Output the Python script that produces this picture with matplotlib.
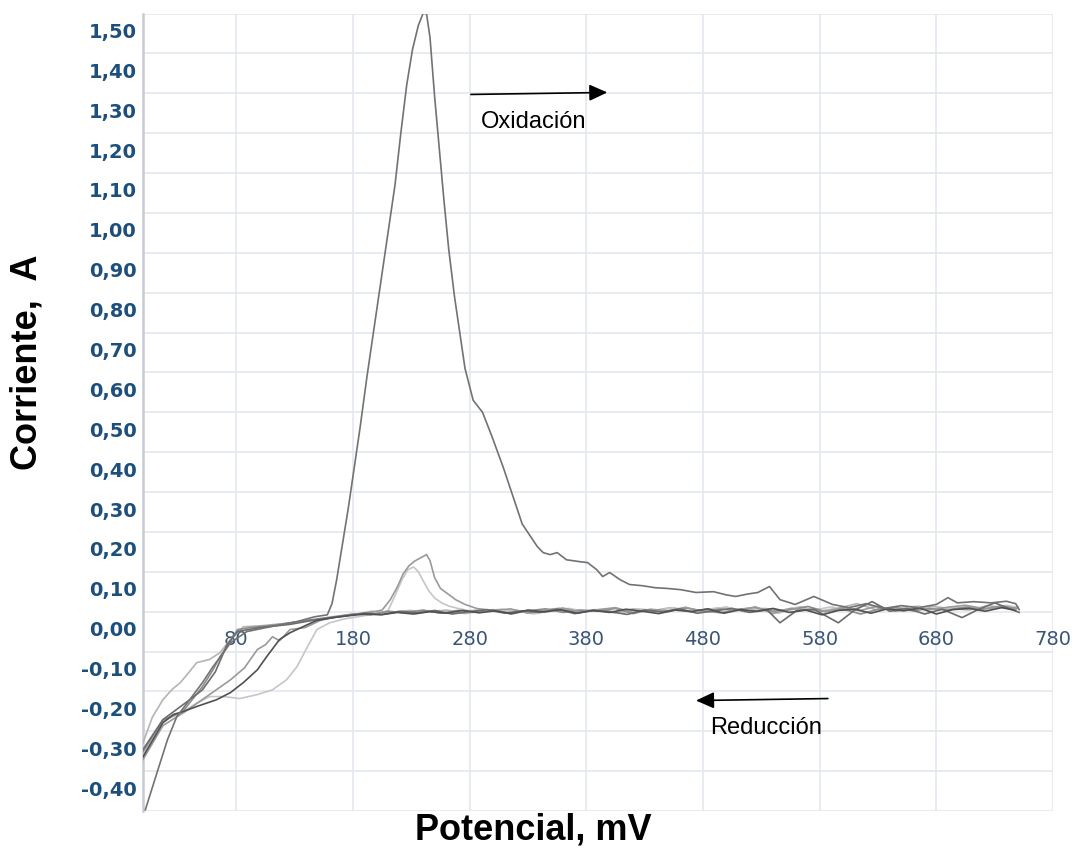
import matplotlib
matplotlib.use("Agg")
import matplotlib.pyplot as plt
from matplotlib.transforms import offset_copy

# Potential (mV) and current (A) for each cycle of the voltammogram
E1 = [2, 12, 21, 29, 40, 51, 60, 69, 75, 89, 109, 132, 147, 158, 162, 166, 171, 176, 181, 186,
      192, 198, 204, 210, 216, 221, 226, 231, 236, 240, 243, 246, 250, 254, 258, 262, 267, 272, 276, 283,
      291, 299, 309, 317, 325, 338, 343, 349, 355, 363, 375, 381, 389, 394, 400, 409, 417, 428, 439, 450,
      461, 474, 489, 500, 508, 518, 527, 537, 546, 559, 567, 575, 591, 605, 620, 635, 650, 665, 680, 690,
      698, 712, 727, 740, 748, 751]
I1 = [-0.497, -0.404, -0.321, -0.263, -0.221, -0.178, -0.138, -0.103, -0.078, -0.050,
      -0.038, -0.025, -0.013, -0.008, 0.020, 0.080, 0.170, 0.260, 0.360, 0.460,
      0.590, 0.710, 0.830, 0.950, 1.070, 1.200, 1.320, 1.410, 1.470, 1.500,
      1.500, 1.440, 1.290, 1.160, 1.030, 0.910, 0.790, 0.690, 0.610, 0.530,
      0.500, 0.440, 0.360, 0.290, 0.220, 0.163, 0.148, 0.143, 0.148, 0.130,
      0.125, 0.123, 0.105, 0.088, 0.098, 0.080, 0.068, 0.065, 0.060, 0.058,
      0.055, 0.048, 0.050, 0.042, 0.038, 0.044, 0.048, 0.063, 0.030, 0.018,
      0.028, 0.038, 0.018, 0.010, 0.020, 0.008, 0.015, 0.010, 0.018, 0.035,
      0.022, 0.025, 0.022, 0.026, 0.020, 0.005]

E2 = [0, 17, 26, 34, 46, 63, 75, 86, 98, 106, 117, 126, 137, 149, 163, 177, 190, 204, 218, 232,
      246, 260, 274, 288, 302, 316, 330, 344, 358, 372, 386, 400, 414, 428, 442, 456, 470, 484, 498, 512,
      526, 540, 554, 568, 582, 596, 610, 624, 638, 652, 666, 680, 694, 708, 722, 736, 748]
I2 = [-0.364, -0.279, -0.258, -0.251, -0.238, -0.221, -0.203, -0.178, -0.146, -0.113,
      -0.070, -0.053, -0.038, -0.022, -0.015, -0.010, -0.006, -0.008, -0.002, -0.006,
      0.000, -0.004, 0.003, -0.003, 0.002, -0.005, 0.004, -0.001, 0.005, -0.004,
      0.003, -0.002, 0.006, 0.001, -0.005, 0.004, 0.000, 0.007, -0.004, 0.005,
      0.001, 0.008, -0.002, 0.004, -0.008, 0.003, 0.006, -0.004, 0.007, 0.002,
      0.009, -0.006, 0.005, 0.008, 0.001, 0.010, 0.003]

E3 = [0, 17, 34, 46, 57, 69, 83, 98, 111, 123, 132, 141, 149, 160, 173, 186, 198, 210, 216, 222,
      227, 232, 236, 240, 245, 250, 256, 262, 270, 280, 292, 305, 320, 335, 350, 365, 380, 395, 410, 425,
      440, 455, 470, 485, 500, 515, 530, 545, 560, 575, 590, 605, 620, 635, 650, 665, 680, 695, 710, 725,
      740, 750]
I3 = [-0.359, -0.276, -0.251, -0.230, -0.213, -0.213, -0.218, -0.208, -0.196, -0.171,
      -0.138, -0.088, -0.045, -0.028, -0.018, -0.012, -0.006, 0.002, 0.040, 0.080,
      0.105, 0.112, 0.100, 0.078, 0.052, 0.034, 0.022, 0.014, 0.008, 0.002,
      0.006, -0.002, 0.004, -0.006, 0.003, 0.008, 0.000, 0.005, -0.004, 0.007,
      0.002, 0.010, -0.001, 0.006, 0.011, 0.001, 0.008, -0.004, 0.010, 0.004,
      0.012, 0.002, 0.018, 0.006, 0.010, 0.014, 0.004, 0.009, 0.013, 0.007,
      0.016, 0.010]

E4 = [0, 17, 34, 51, 60, 66, 72, 81, 92, 109, 122, 135, 150, 165, 180, 195, 210, 225, 240, 255,
      270, 285, 300, 315, 330, 345, 360, 375, 390, 405, 420, 435, 450, 465, 480, 495, 510, 525, 540, 555,
      570, 585, 600, 615, 630, 645, 660, 675, 690, 705, 720, 735, 749]
I4 = [-0.351, -0.272, -0.251, -0.188, -0.146, -0.113, -0.088, -0.045, -0.040, -0.035,
      -0.030, -0.024, -0.018, -0.012, -0.006, -0.008, 0.001, -0.003, 0.004, -0.004,
      0.003, -0.001, 0.005, -0.006, 0.002, 0.007, -0.002, 0.004, 0.001, 0.008,
      -0.005, 0.005, 0.000, 0.009, 0.002, -0.003, 0.006, 0.010, 0.001, 0.005,
      0.013, 0.000, 0.007, -0.006, 0.006, 0.010, 0.002, 0.008, 0.004, 0.011,
      0.006, 0.014, 0.008]

E5 = [0, 8, 17, 25, 32, 40, 46, 57, 66, 75, 86, 103, 120, 135, 150, 165, 180, 196, 212, 228,
      244, 260, 276, 292, 308, 324, 340, 356, 372, 388, 404, 420, 436, 452, 468, 484, 500, 516, 532, 548,
      564, 580, 596, 612, 628, 644, 660, 676, 692, 708, 724, 740, 750]
I5 = [-0.329, -0.265, -0.221, -0.195, -0.178, -0.150, -0.128, -0.120, -0.103, -0.070,
      -0.038, -0.035, -0.030, -0.025, -0.020, -0.014, -0.008, 0.001, -0.004, 0.003,
      -0.001, 0.004, -0.005, 0.002, 0.006, -0.001, 0.003, 0.008, 0.000, 0.005,
      -0.003, 0.007, 0.002, 0.010, 0.001, 0.006, 0.011, 0.000, 0.008, 0.004,
      0.012, 0.001, 0.009, 0.020, 0.005, 0.010, 0.003, 0.013, 0.008, 0.004,
      0.015, 0.009, 0.012]

E6 = [0, 17, 40, 51, 62, 72, 81, 100, 126, 145, 160, 175, 190, 205, 220, 235, 250, 265, 280, 295,
      310, 325, 340, 355, 370, 385, 400, 415, 430, 445, 460, 475, 490, 505, 520, 535, 546, 560, 575, 596,
      610, 625, 640, 655, 670, 685, 702, 715, 730, 745, 751]
I6 = [-0.346, -0.271, -0.221, -0.196, -0.151, -0.083, -0.050, -0.040, -0.032, -0.022,
      -0.016, -0.010, -0.004, -0.007, 0.001, -0.003, 0.003, -0.006, 0.000, 0.005,
      -0.004, 0.002, -0.002, 0.006, -0.005, 0.003, 0.000, -0.007, 0.004, -0.001,
      0.007, -0.004, 0.002, 0.008, -0.002, 0.004, -0.028, 0.002, 0.006, -0.028,
      0.004, 0.025, 0.001, 0.008, -0.006, 0.006, -0.015, 0.004, 0.022, 0.005,
      -0.002]

E7 = [0, 17, 36, 57, 75, 87, 98, 105, 111, 117, 126, 139, 152, 166, 180, 195, 205, 212, 218, 223,
      228, 233, 238, 243, 246, 250, 255, 262, 268, 276, 286, 300, 315, 330, 345, 360, 375, 390, 405, 420,
      435, 450, 465, 480, 495, 510, 525, 540, 555, 570, 585, 600, 615, 630, 645, 660, 675, 690, 705, 720,
      735, 748]
I7 = [-0.371, -0.286, -0.251, -0.208, -0.171, -0.141, -0.095, -0.083, -0.063, -0.073,
      -0.045, -0.040, -0.022, -0.013, -0.007, -0.002, 0.004, 0.030, 0.062, 0.095,
      0.115, 0.127, 0.135, 0.143, 0.128, 0.085, 0.058, 0.043, 0.030, 0.018,
      0.008, 0.002, 0.007, -0.004, 0.004, 0.009, -0.001, 0.005, 0.010, -0.002,
      0.006, 0.002, 0.011, 0.000, 0.007, 0.003, 0.012, -0.005, 0.008, 0.004,
      0.000, 0.010, 0.003, 0.014, 0.001, 0.009, 0.005, 0.011, 0.016, 0.007,
      0.012, 0.008]

X_TICKS = [80, 180, 280, 380, 480, 580, 680, 780]
Y_TICKS = [1.50, 1.40, 1.30, 1.20, 1.10, 1.00, 0.90, 0.80, 0.70, 0.60,
           0.50, 0.40, 0.30, 0.20, 0.10, 0.00, -0.10, -0.20, -0.30, -0.40]
Y_GRID = Y_TICKS + [-0.50]

CURVES = [
    (E5, I5, "#b4b4b4"),
    (E3, I3, "#c6c6c6"),
    (E4, I4, "#8c8c8c"),
    (E7, I7, "#9a9a9a"),
    (E6, I6, "#6c6c6c"),
    (E2, I2, "#505050"),
    (E1, I1, "#727272"),
]

fig = plt.figure(figsize=(10.79, 8.48), dpi=100)
ax = fig.add_axes([143 / 1079, 1 - 811 / 848, (1053 - 143) / 1079, (811 - 13.5) / 848])
ax.set_xlim(0, 780)
ax.set_ylim(-0.5, 1.5)
ax.set_xticks(X_TICKS)
ax.set_yticks(Y_GRID)
ax.grid(True, color="#e2e6ee", lw=1.1, zorder=0)
ax.set_axisbelow(True)
ax.tick_params(length=0, labelbottom=False, labelleft=False)
for side in ("top", "right", "bottom"):
    ax.spines[side].set_visible(False)
ax.spines["left"].set_color("#c6cbd3")
ax.spines["left"].set_linewidth(1.8)

for e, i, c in CURVES:
    assert len(e) == len(i)
    ax.plot(e, i, color=c, lw=1.2, zorder=3, solid_joinstyle="round")

# tick labels sit just below their grid lines
ylab_tr = offset_copy(ax.get_yaxis_transform(), fig=fig, x=-6, y=-19, units="dots")
for v in Y_TICKS:
    ax.text(0, v, f"{v:.2f}".replace(".", ","), transform=ylab_tr, ha="right", va="center",
            fontsize=14, fontweight="bold", color="#1d4f7c", family="DejaVu Sans", zorder=1)

xlab_tr = offset_copy(ax.transData, fig=fig, x=0, y=-28, units="dots")
for v in X_TICKS:
    ax.text(v, 0, str(v), transform=xlab_tr, ha="center", va="center",
            fontsize=14, color="#3b5577", family="DejaVu Sans", zorder=1, clip_on=False)

fig.text(533 / 1079, 1 - 830 / 848, "Potencial, mV", ha="center", va="center",
         family="Liberation Sans", fontweight="bold", fontsize=26)
fig.text(27 / 1079, 1 - 362 / 848, "Corriente,  A", ha="center", va="center", rotation=90,
         family="Liberation Sans", fontweight="bold", fontsize=26)

arrow = dict(arrowstyle="-|>,head_length=0.55,head_width=0.25", color="black", lw=1.2,
             mutation_scale=20, shrinkA=0, shrinkB=0)
ax.annotate("", xy=(398, 1.302), xytext=(281, 1.297), arrowprops=arrow, zorder=4)
ax.text(335, 1.227, "Oxidación", ha="center", va="center", family="Liberation Sans", fontsize=17)
ax.annotate("", xy=(474, -0.223), xytext=(587, -0.218), arrowprops=arrow, zorder=4)
ax.text(534, -0.291, "Reducción", ha="center", va="center", family="Liberation Sans", fontsize=17)

fig.savefig("out.png", dpi=100)
